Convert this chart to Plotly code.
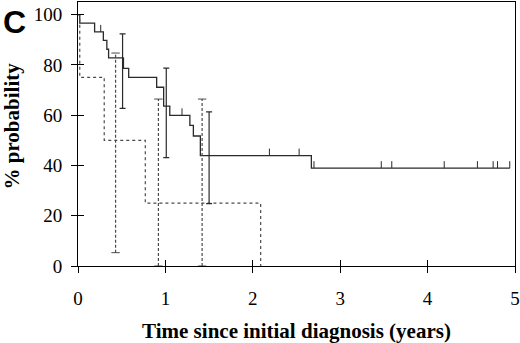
import plotly.graph_objects as go

# Group 1 (solid) Kaplan-Meier steps
solid_t = [0, 0.02, 0.19, 0.29, 0.33, 0.35, 0.52, 0.58, 0.90, 0.98, 1.05, 1.28, 1.32, 1.40, 2.67, 4.94]
solid_s = [100, 96.6, 93.1, 89.7, 86.2, 82.8, 78.6, 75.0, 71.1, 63.6, 59.9, 55.9, 51.7, 43.9, 38.9, 38.9]
solid_censor_t = [0.26, 1.19, 2.19, 2.53, 2.70, 3.47, 3.59, 4.19, 4.57, 4.75, 4.80, 4.94]
solid_err_t = [0.51, 1.01, 1.50]
solid_err_lo = [62.7, 43.1, 24.8]
solid_err_hi = [92.3, 78.7, 61.3]

# Group 2 (dotted)
dot_t = [0, 0.02, 0.30, 0.77, 2.09]
dot_s = [100, 75, 50, 25, 0]
dot_err_t = [0.43, 0.92, 1.42]
dot_err_lo = [5.3, 0, 0]
dot_err_hi = [84.7, 66.4, 66.4]

x_ticks = [0, 1, 2, 3, 4, 5]
y_ticks = [0, 20, 40, 60, 80, 100]


def step_value(t, ts, ss):
    v = ss[0]
    for ti, si in zip(ts, ss):
        if ti <= t:
            v = si
    return v


SOLID = "#2a2a2a"
DOT = "#4a4a4a"
SERIF = "Liberation Serif"

fig = go.Figure()

fig.add_trace(go.Scatter(x=solid_t, y=solid_s, mode="lines", line=dict(shape="hv", color=SOLID, width=1.3),
                         hoverinfo="skip", showlegend=False))
fig.add_trace(go.Scatter(x=dot_t, y=dot_s, mode="lines", line=dict(shape="hv", color=DOT, width=1.2, dash="dot"),
                         hoverinfo="skip", showlegend=False))

# censor ticks (upward marks)
cy = [step_value(t, solid_t, solid_s) for t in solid_censor_t]
fig.add_trace(go.Scatter(x=solid_censor_t, y=cy, mode="markers", marker=dict(size=1, color="rgba(0,0,0,0)"),
                         error_y=dict(type="data", symmetric=False, array=[2.8] * len(cy),
                                      arrayminus=[0] * len(cy), width=0, color=SOLID, thickness=1),
                         hoverinfo="skip", showlegend=False))

# solid error bars
mid = [(a + b) / 2 for a, b in zip(solid_err_lo, solid_err_hi)]
fig.add_trace(go.Scatter(x=solid_err_t, y=mid, mode="markers", marker=dict(size=1, color="rgba(0,0,0,0)"),
                         error_y=dict(type="data", symmetric=False,
                                      array=[h - m for h, m in zip(solid_err_hi, mid)],
                                      arrayminus=[m - l for m, l in zip(mid, solid_err_lo)],
                                      width=3, color=SOLID, thickness=1.2),
                         hoverinfo="skip", showlegend=False))

# dashed error bars
ex, ey = [], []
for t, lo, hi in zip(dot_err_t, dot_err_lo, dot_err_hi):
    ex += [t, t, None]
    ey += [lo, hi, None]
fig.add_trace(go.Scatter(x=ex, y=ey, mode="lines", line=dict(color=DOT, width=1.2, dash="3px,2px"),
                         hoverinfo="skip", showlegend=False))
fig.add_trace(go.Scatter(x=dot_err_t + dot_err_t, y=dot_err_hi + dot_err_lo, mode="markers",
                         marker=dict(symbol="line-ew", size=6, line=dict(color=DOT, width=1)),
                         hoverinfo="skip", showlegend=False))

# dummy trace for the inside-tick overlay axes
fig.add_trace(go.Scatter(x=[0], y=[0], xaxis="x2", yaxis="y2", mode="markers",
                         marker=dict(size=1, color="rgba(0,0,0,0)"), hoverinfo="skip", showlegend=False))

fig.update_layout(
    width=520, height=343,
    margin=dict(l=78, r=5, t=2, b=77),
    plot_bgcolor="white", paper_bgcolor="white",
    font=dict(family=SERIF, size=19, color="black"),
    xaxis=dict(range=[0, 5], tickvals=x_ticks, ticks="outside", ticklen=6, tickwidth=1, tickcolor="black",
               showline=True, linecolor="black", linewidth=1, mirror=True, showgrid=False, zeroline=False,
               tickfont=dict(family=SERIF, size=19, color="black"), automargin=False,
               ticklabeloverflow="allow", ticklabelstandoff=9,
               title=dict(text="<b>Time since initial diagnosis (years)</b>", standoff=15,
                          font=dict(family=SERIF, size=21, color="black"))),
    yaxis=dict(range=[0, 105], tickvals=y_ticks, ticks="outside", ticklen=6, tickwidth=1, tickcolor="black",
               showline=True, linecolor="black", linewidth=1, mirror=True, showgrid=False, zeroline=False,
               tickfont=dict(family=SERIF, size=19, color="black"), ticklabelstandoff=5, automargin=False),
    xaxis2=dict(overlaying="x", matches="x", range=[0, 5], tickvals=x_ticks, ticks="inside", ticklen=6,
                tickwidth=1, tickcolor="black", showticklabels=False, showline=False, showgrid=False,
                zeroline=False, anchor="y2", side="bottom", automargin=False),
    yaxis2=dict(overlaying="y", matches="y", range=[0, 105], tickvals=y_ticks, ticks="inside", ticklen=6,
                tickwidth=1, tickcolor="black", showticklabels=False, showline=False, showgrid=False,
                zeroline=False, anchor="x2", side="left", automargin=False),
    annotations=[
        dict(text="<b>C</b>", xref="paper", yref="paper", x=(1 - 78) / 437, y=1.0,
             xanchor="left", yanchor="top", showarrow=False,
             font=dict(family="Liberation Sans", size=32, color="black")),
        dict(text="<b>% probability</b>", xref="paper", yref="paper", x=(12 - 78) / 437,
             y=(266 - 126.5) / 264, xanchor="center", yanchor="middle", textangle=-90, showarrow=False,
             font=dict(family=SERIF, size=21, color="black")),
    ],
)

fig.write_html("out.html", config={"displayModeBar": False},
               post_script="document.body.style.margin='0';document.body.style.overflow='hidden';")
